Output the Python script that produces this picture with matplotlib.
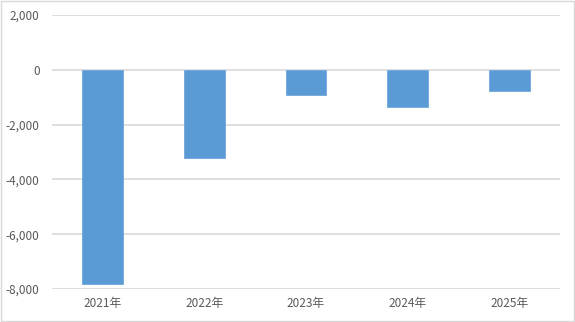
import matplotlib.pyplot as plt
from matplotlib.patches import Rectangle
from matplotlib.ticker import FuncFormatter

plt.rcParams['font.family'] = ['Noto Sans CJK JP', 'DejaVu Sans']

years = ['2021年', '2022年', '2023年', '2024年', '2025年']
values = [-7830, -3220, -910, -1340, -760]

fig = plt.figure(figsize=(5.75, 3.22), dpi=100)
ax = fig.add_axes([52/575, 1-289/322, 508/575, 274/322])

x = range(len(years))
ax.bar(x, values, width=0.4, color='#5b9bd5', edgecolor='#6fa8dc', linewidth=0.6, zorder=3)

ax.set_xlim(-0.5, len(years) - 0.5)
ax.set_ylim(-8000, 2000)
ax.set_yticks(range(-8000, 2001, 2000))
ax.yaxis.set_major_formatter(FuncFormatter(lambda v, p: f'{int(v):,}'))
ax.set_xticks(list(x))
ax.set_xticklabels(years)

ax.grid(axis='y', color='#d9d9d9', linewidth=1.2, zorder=0)
for s in ax.spines.values():
    s.set_visible(False)
ax.tick_params(axis='both', length=0, labelsize=8.5, colors='#595959')
ax.tick_params(axis='y', pad=9)
ax.tick_params(axis='x', pad=6)

fig.patches.append(Rectangle((0.001, 0.002), 0.997, 0.995, transform=fig.transFigure,
                             fill=False, edgecolor='#d9d9d9', linewidth=1.0))

fig.savefig('out.png', dpi=100)
